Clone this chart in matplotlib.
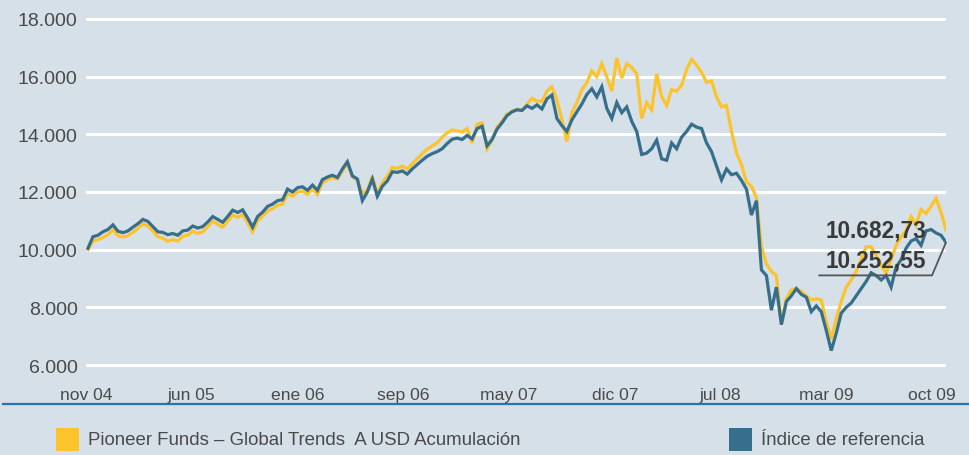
import numpy as np
import matplotlib.pyplot as plt
from matplotlib import font_manager as fm
from matplotlib.lines import Line2D
from matplotlib.patches import Rectangle

# valores (base 10.000) del fondo y del índice, desde nov 04 hasta oct 09
fondo = [10000, 10300, 10350, 10420, 10520, 10690, 10480, 10440, 10480, 10600,
         10740, 10900, 10820, 10640, 10450, 10400, 10290, 10350, 10300, 10470,
         10500, 10640, 10560, 10620, 10790, 10990, 10880, 10780, 10990, 11200,
         11120, 11220, 10940, 10620, 11000, 11150, 11340, 11420, 11540, 11580,
         11950, 11850, 12000, 12030, 11920, 12100, 11920, 12320, 12430, 12500,
         12450, 12720, 13000, 12520, 12420, 11950, 12050, 12550, 11950, 12320,
         12550, 12850, 12820, 12900, 12800, 12980, 13150, 13330, 13480, 13600,
         13700, 13900, 14050, 14150, 14120, 14080, 14200, 13700, 14350, 14400,
         13500, 13800, 14250, 14450, 14700, 14800, 14870, 14820, 15050, 15250,
         15150, 15150, 15500, 15650, 15200, 14500, 13750, 14750, 15100, 15550,
         15800, 16200, 16000, 16450, 16000, 15500, 16650, 15950, 16450, 16320,
         16100, 14550, 15100, 14850, 16100, 15300, 15000, 15550, 15500, 15700,
         16250, 16600, 16400, 16150, 15800, 15850, 15300, 14950, 15000, 14100,
         13350, 12950, 12350, 12200, 11800, 10100, 9500, 9250, 9100, 7400,
         8300, 8600, 8650, 8550, 8400, 8250, 8300, 8250, 7500, 6900,
         7600, 8200, 8700, 8950, 9250, 9650, 10100, 10100, 9800, 9450,
         9200, 9650, 10150, 10450, 10650, 11150, 10850, 11400, 11250, 11500,
         11780, 11300, 10682.73]

indice = [10050, 10450, 10500, 10620, 10700, 10860, 10640, 10590, 10650, 10780,
          10900, 11050, 10980, 10800, 10620, 10600, 10520, 10560, 10500, 10650,
          10680, 10820, 10750, 10800, 10960, 11150, 11050, 10950, 11150, 11370,
          11290, 11380, 11100, 10780, 11150, 11300, 11500, 11580, 11700, 11730,
          12100, 12000, 12150, 12180, 12060, 12240, 12060, 12430, 12520, 12580,
          12500, 12800, 13050, 12560, 12450, 11700, 12000, 12450, 11850, 12200,
          12380, 12700, 12680, 12730, 12620, 12800, 12950, 13100, 13240, 13330,
          13400, 13500, 13680, 13830, 13870, 13820, 13960, 13840, 14200, 14280,
          13600, 13820, 14180, 14400, 14650, 14780, 14850, 14830, 14990, 14900,
          15020, 14880, 15230, 15360, 14550, 14300, 14100, 14500, 14780, 15050,
          15380, 15580, 15300, 15650, 14900, 14550, 15100, 14750, 14950, 14450,
          14100, 13300, 13350, 13500, 13800, 13150, 13100, 13700, 13500, 13900,
          14100, 14350, 14250, 14200, 13700, 13400, 12900, 12420, 12800, 12600,
          12650, 12400, 12100, 11200, 11700, 9300, 9100, 7900, 8700, 7400,
          8200, 8400, 8650, 8450, 8350, 7850, 8050, 7850, 7200, 6500,
          7100, 7800, 8000, 8150, 8400, 8650, 8900, 9200, 9100, 8950,
          9100, 8700, 9400, 9650, 10050, 10300, 10380, 10150, 10650, 10700,
          10580, 10500, 10252.55]

meses = ["nov 04", "jun 05", "ene 06", "sep 06", "may 07",
         "dic 07", "jul 08", "mar 09", "oct 09"]
valores_y = [6000, 8000, 10000, 12000, 14000, 16000, 18000]

fondo_label = "Pioneer Funds \u2013 Global Trends  A USD Acumulaci\u00f3n"
indice_label = "\u00cdndice de referencia"

bg = "#d6e0e8"
amarillo = "#fcc42a"
azul = "#366e8b"
gris = "#4a4a4a"

# fuente estrecha si existe; si no, Liberation Sans algo más pequeña
disponibles = {f.name for f in fm.fontManager.ttflist}
if "Liberation Sans Narrow" in disponibles:
    narrow, esc_ticks, esc_ley = ["Liberation Sans Narrow", "DejaVu Sans"], 1.0, 1.0
else:
    narrow, esc_ticks, esc_ley = ["Liberation Sans", "DejaVu Sans"], 0.84, 0.79

W, H = 969, 456
fig = plt.figure(figsize=(W / 100, H / 100), dpi=100, facecolor=bg)
ax = fig.add_axes([86 / W, (H - 378) / H, (946 - 86) / W, 378 / H])
ax.set_facecolor(bg)

x = np.arange(len(fondo))
ax.plot(x, fondo, color=amarillo, lw=2.3, zorder=3, solid_joinstyle="miter")
ax.plot(x, indice, color=azul, lw=2.3, zorder=4, solid_joinstyle="miter")

ax.set_xlim(0, len(fondo) - 1)
ax.set_ylim(5584, 18693)

# rejilla horizontal blanca
ax.set_yticks(valores_y)
ax.set_yticklabels([f"{v:,}".replace(",", ".") for v in valores_y],
                   family=["Liberation Sans", "DejaVu Sans"], fontsize=14,
                   color=gris)
ax.yaxis.grid(True, color="white", lw=2.2, zorder=1)
ax.set_axisbelow(True)

ax.set_xticks(np.linspace(-0.4, 169.2, len(meses)))
ax.set_xticklabels(meses, family=narrow, fontsize=15 * esc_ticks, color=gris)
ax.tick_params(axis="both", length=0)
ax.tick_params(axis="y", pad=6)
ax.tick_params(axis="x", pad=7)
for s in ax.spines.values():
    s.set_visible(False)

# valores finales
ax.annotate("10.682,73", xy=(x[-1], fondo[-1]), xytext=(-120, 0),
            textcoords="offset pixels", ha="left", va="center",
            fontsize=16.3, fontweight="bold", family="Liberation Sans",
            color="#3a3a3a", zorder=6)
ax.annotate("10.252,55", xy=(x[-1], indice[-1]), xytext=(-120, -18),
            textcoords="offset pixels", ha="left", va="center",
            fontsize=16.3, fontweight="bold", family="Liberation Sans",
            color="#3a3a3a", zorder=6)
ax.annotate("", xy=(x[-1], indice[-1]), xytext=(-127, -33),
            textcoords="offset pixels",
            arrowprops=dict(arrowstyle="-", color="#555555", lw=1.3,
                            shrinkA=0, shrinkB=0,
                            connectionstyle="angle,angleA=0,angleB=67,rad=0"),
            zorder=5)

# línea separadora y leyenda
fig.add_artist(Line2D([3 / W, 1], [(H - 405) / H] * 2, color="#2a72b5", lw=1.6))
for x0, color, label in [(56, amarillo, fondo_label), (729, azul, indice_label)]:
    fig.add_artist(Rectangle((x0 / W, (H - 452) / H), 23 / W, 23 / H,
                             facecolor=color, edgecolor="none"))
    fig.text((x0 + 32) / W, (H - 441) / H, label, family=narrow,
             fontsize=17 * esc_ley, color=gris, va="center", ha="left")

fig.savefig("out.png", dpi=100, facecolor=bg)
